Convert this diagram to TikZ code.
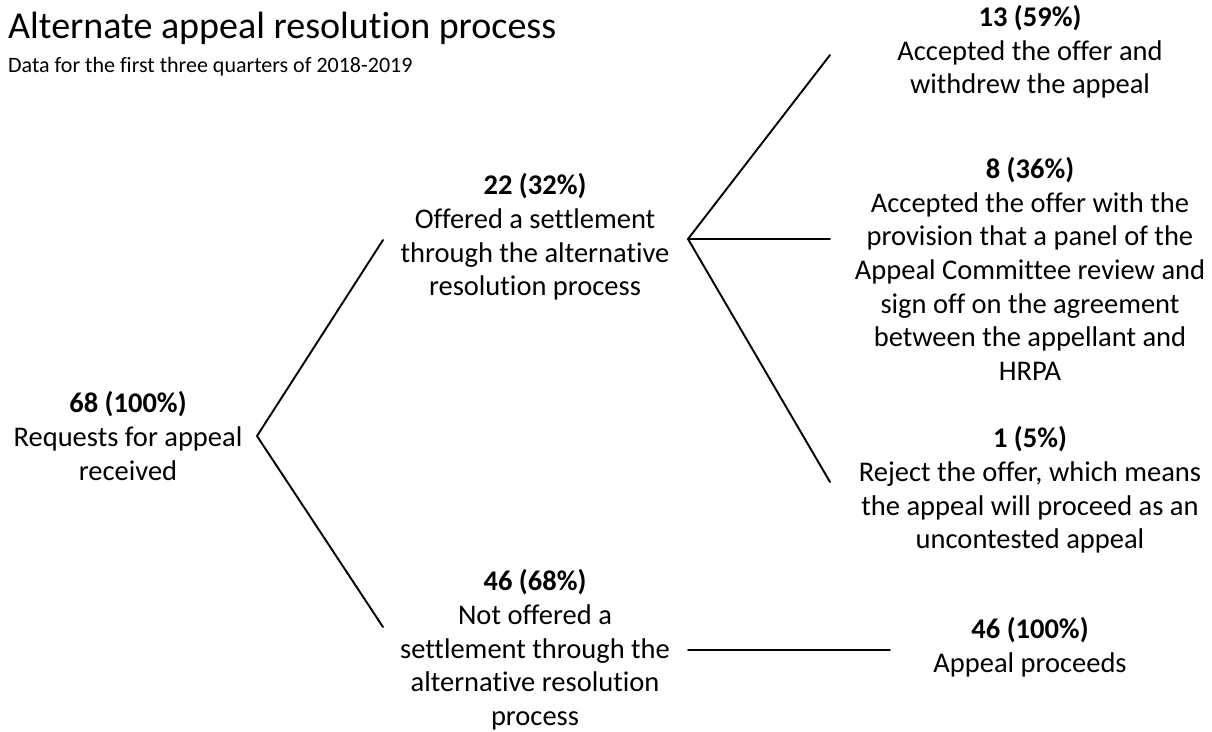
\documentclass[tikz,border=0pt]{standalone}
\usepackage{fontspec}
\setmainfont{Carlito}[Ligatures={NoCommon}]
\begin{document}
\begin{tikzpicture}[x=1pt,y=-1pt,
  lbl/.style={align=center, font=\fontsize{28.5}{33.7}\selectfont, inner sep=0pt},
  conn/.style={line width=1.9pt, line cap=round}]
\useasboundingbox (0,0) rectangle (1212,731);
\node[anchor=base west, inner sep=0pt, font=\fontsize{38}{42}\selectfont] (title) at (8,38) {Alternate appeal resolution process};
\node[anchor=base west, inner sep=0pt, font=\fontsize{22}{26}\selectfont] (sub) at (8,72) {Data for the first three quarters of 2018-2019};

\node[lbl] (root) at (128,436) {\textbf{68 (100\%)}\\Requests for appeal\\received};
\node[lbl] (mid1) at (535,237) {\textbf{22 (32\%)}\\Offered a settlement\\through the alternative\\resolution process};
\node[lbl] (r1) at (1030,52) {\textbf{13 (59\%)}\\Accepted the offer and\\withdrew the appeal};
\node[lbl] (r2) at (1030,269) {\textbf{8 (36\%)}\\Accepted the offer with the\\provision that a panel of the\\Appeal Committee review and\\sign off on the agreement\\between the appellant and\\HRPA};
\node[lbl] (r3) at (1030,490) {\textbf{1 (5\%)}\\Reject the offer, which means\\the appeal will proceed as an\\uncontested appeal};
\node[lbl] (mid2) at (535,650) {\textbf{46 (68\%)}\\Not offered a\\settlement through the\\alternative resolution\\process};
\node[lbl] (r4) at (1030,647) {\textbf{46 (100\%)}\\Appeal proceeds};

\coordinate (v0) at (257,436);
\coordinate (a1) at (383,240);
\coordinate (a2) at (383,627);
\coordinate (v1) at (688,239);
\coordinate (b1) at (830,55);
\coordinate (b2) at (830,239);
\coordinate (b3) at (830,482);
\coordinate (c1) at (688,650);
\coordinate (c2) at (890,650);

\draw[conn] (a1) -- (v0) -- (a2);
\draw[conn] (v1) -- (b1);
\draw[conn] (v1) -- (b2);
\draw[conn] (v1) -- (b3);
\draw[conn] (c1) -- (c2);
\end{tikzpicture}
\end{document}
